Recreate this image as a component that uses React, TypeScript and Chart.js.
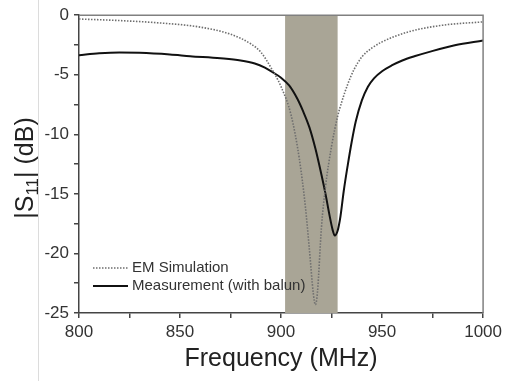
import React, { useEffect, useRef } from "react";
import { Chart, registerables } from "chart.js";

Chart.register(...registerables);

// EM simulation |S11| (dB)
const simFreq = [800, 820, 840, 860, 875, 885, 890, 895, 900, 905, 909, 912, 914, 916, 917, 918, 920, 922, 925, 928, 930, 933, 936, 940, 945, 950, 963, 980, 1000];
const simDb = [-0.32, -0.45, -0.65, -1.0, -1.6, -2.4, -3.1, -4.4, -6.0, -8.4, -12.0, -16, -19.6, -23.4, -24.3, -23.3, -17.8, -14.4, -11.0, -8.5, -7.3, -5.8, -4.6, -3.5, -2.75, -2.24, -1.4, -0.84, -0.56];

// Measurement (with balun) |S11| (dB)
const measFreq = [800, 810, 820, 830, 845, 855, 870, 880, 887, 892, 896, 900, 904, 908, 911, 914, 917, 920, 922, 924, 925.5, 926.6, 928, 929.4, 931, 933, 935, 937, 940, 943, 946, 950, 955, 960, 966, 973, 986, 1000];
const measDb = [-3.36, -3.2, -3.13, -3.16, -3.3, -3.44, -3.62, -3.8, -4.05, -4.4, -4.8, -5.25, -5.9, -7.0, -8.1, -9.4, -11.2, -13.4, -15, -16.8, -18, -18.5, -18.1, -16.9, -14.8, -12.6, -10.6, -8.9, -7.15, -6.0, -5.3, -4.7, -4.2, -3.8, -3.45, -3.1, -2.52, -2.12];

// Shaded ISM band (MHz)
const bandStart = 902;
const bandEnd = 928;

const seriesLabels = ["EM Simulation", "Measurement (with balun)"];
const xTitle = "Frequency (MHz)";

const FONT = "'Liberation Sans', Arial, sans-serif";

const overlayPlugin = {
  id: "overlay",
  beforeDatasetsDraw(chart: any) {
    const { ctx, chartArea, scales } = chart;
    const x0 = scales.x.getPixelForValue(bandStart);
    const x1 = scales.x.getPixelForValue(bandEnd);
    ctx.save();
    ctx.fillStyle = "#a9a596";
    ctx.fillRect(x0, chartArea.top, x1 - x0, chartArea.bottom - chartArea.top);
    ctx.restore();
  },
  afterDraw(chart: any) {
    const { ctx, chartArea } = chart;
    ctx.save();
    // page artifact line
    ctx.fillStyle = "#dcdcdc";
    ctx.fillRect(38, 0, 1, 381);
    // frame top/right
    ctx.strokeStyle = "#808080";
    ctx.lineWidth = 1.5;
    ctx.beginPath();
    ctx.moveTo(chartArea.left, chartArea.top);
    ctx.lineTo(chartArea.right, chartArea.top);
    ctx.lineTo(chartArea.right, chartArea.bottom);
    ctx.stroke();

    // legend
    ctx.lineWidth = 1.6;
    ctx.strokeStyle = "#6e6e6e";
    ctx.setLineDash([1.5, 1.5]);
    ctx.beginPath();
    ctx.moveTo(93, 268);
    ctx.lineTo(128, 268);
    ctx.stroke();
    ctx.setLineDash([]);
    ctx.strokeStyle = "#111";
    ctx.lineWidth = 2;
    ctx.beginPath();
    ctx.moveTo(93, 286);
    ctx.lineTo(128, 286);
    ctx.stroke();
    ctx.fillStyle = "#333";
    ctx.font = `15px ${FONT}`;
    ctx.textBaseline = "middle";
    ctx.textAlign = "left";
    ctx.fillText(seriesLabels[0], 132, 268);
    ctx.fillText(seriesLabels[1], 132, 286);

    // x title
    ctx.font = `25px ${FONT}`;
    ctx.textAlign = "center";
    ctx.textBaseline = "alphabetic";
    ctx.fillStyle = "#222";
    ctx.fillText(xTitle, (chartArea.left + chartArea.right) / 2, 366);

    // y title: |S11| (dB)
    const big = `25px ${FONT}`;
    const small = `17px ${FONT}`;
    ctx.font = big;
    const w1 = ctx.measureText("|S").width;
    const w3 = ctx.measureText("| (dB)").width;
    ctx.font = small;
    const w2 = ctx.measureText("11").width;
    const total = w1 + w2 + w3;
    ctx.translate(33, 168);
    ctx.rotate(-Math.PI / 2);
    let x = -total / 2;
    ctx.textAlign = "left";
    ctx.font = big;
    ctx.fillText("|S", x, 0);
    x += w1;
    ctx.font = small;
    ctx.fillText("11", x, 5);
    x += w2;
    ctx.font = big;
    ctx.fillText("| (dB)", x, 0);
    ctx.restore();
  },
};

export default function App() {
  const ref = useRef<HTMLCanvasElement>(null);
  useEffect(() => {
    document.body.style.margin = "0";
    const chart = new Chart(ref.current!, {
      type: "line",
      data: {
        datasets: [
          {
            label: seriesLabels[0],
            data: simFreq.map((f, i) => ({ x: f, y: simDb[i] })),
            borderColor: "#6e6e6e",
            borderWidth: 1.6,
            borderDash: [1.5, 1.5],
            pointRadius: 0,
            cubicInterpolationMode: "monotone",
            fill: false,
          },
          {
            label: seriesLabels[1],
            data: measFreq.map((f, i) => ({ x: f, y: measDb[i] })),
            borderColor: "#111",
            borderWidth: 2,
            pointRadius: 0,
            cubicInterpolationMode: "monotone",
            fill: false,
          },
        ],
      },
      options: {
        responsive: false,
        animation: false,
        plugins: { legend: { display: false }, tooltip: { enabled: false } },
        layout: { padding: { left: 0, top: 15, right: 19, bottom: 0 } },
        scales: {
          x: {
            type: "linear",
            min: 800,
            max: 1000,
            ticks: {
              stepSize: 25,
              autoSkip: false,
              maxRotation: 0,
              padding: 4,
              color: "#333",
              font: { size: 17, family: FONT },
              callback: (v: any) => (Number(v) % 50 === 0 ? String(v) : ""),
            },
            grid: { drawOnChartArea: false, drawTicks: true, tickLength: 5, color: "#444", lineWidth: 1.5 },
            border: { color: "#444", width: 1.5 },
            afterFit: (s: any) => {
              s.height = 68;
            },
          },
          y: {
            type: "linear",
            min: -25,
            max: 0,
            ticks: {
              stepSize: 2.5,
              autoSkip: false,
              padding: 5,
              color: "#333",
              font: { size: 17, family: FONT },
              callback: (v: any) => (Number(v) % 5 === 0 ? String(v) : ""),
            },
            grid: { drawOnChartArea: false, drawTicks: true, tickLength: 5, color: "#444", lineWidth: 1.5 },
            border: { color: "#444", width: 1.5 },
            afterFit: (s: any) => {
              s.width = 79;
            },
          },
        },
      },
      plugins: [overlayPlugin],
    });
    return () => chart.destroy();
  }, []);
  return (
    <div style={{ width: 506, height: 381, background: "#fff" }}>
      <canvas ref={ref} width={506} height={381} />
    </div>
  );
}
